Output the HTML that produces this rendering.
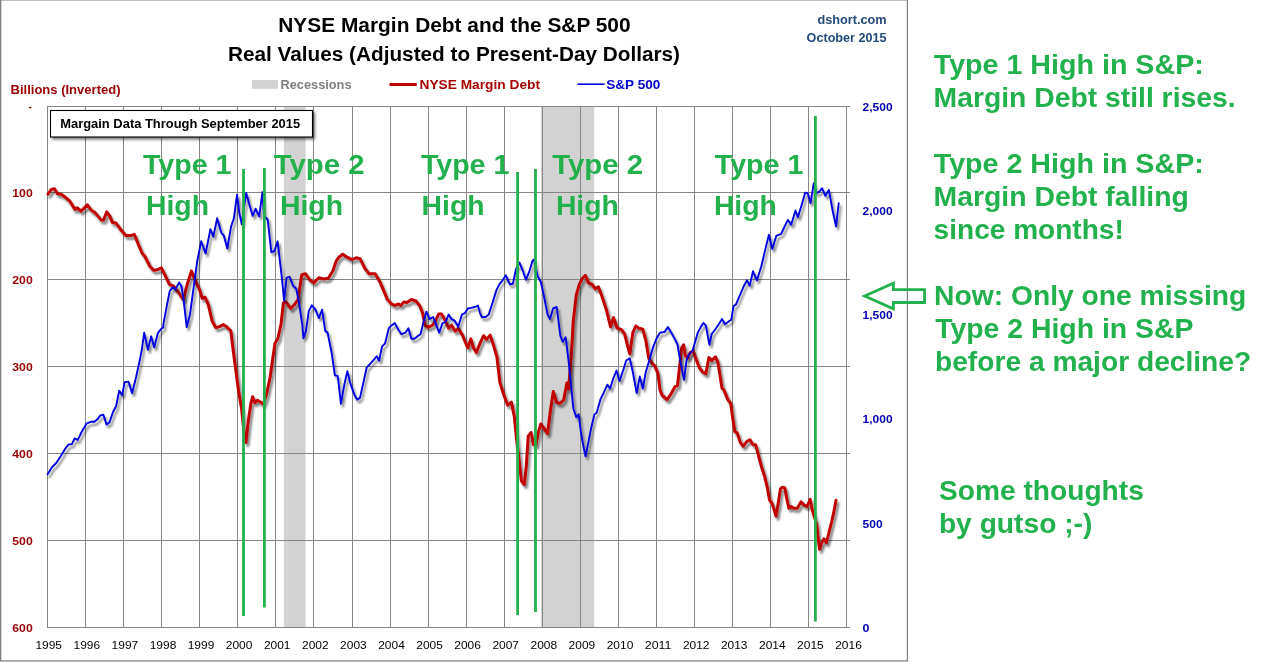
<!DOCTYPE html>
<html lang="en"><head><meta charset="utf-8"><title>NYSE Margin Debt and the S&amp;P 500</title>
<style>html,body{margin:0;padding:0;background:#fff;}body{width:1272px;height:662px;overflow:hidden;}svg{display:block;}text{font-family:"Liberation Sans",Arial,sans-serif;}</style></head><body>
<svg width="1272" height="662" viewBox="0 0 1272 662">
<defs>
<filter id="sh" x="-5%" y="-5%" width="110%" height="110%"><feGaussianBlur in="SourceAlpha" stdDeviation="1.3"/><feOffset dx="2" dy="2.5" result="o"/><feComponentTransfer><feFuncA type="linear" slope="0.5"/></feComponentTransfer><feMerge><feMergeNode/><feMergeNode in="SourceGraphic"/></feMerge></filter>
<filter id="sh2" x="-5%" y="-20%" width="110%" height="150%"><feGaussianBlur in="SourceAlpha" stdDeviation="1.5"/><feOffset dx="2" dy="2"/><feComponentTransfer><feFuncA type="linear" slope="0.55"/></feComponentTransfer><feMerge><feMergeNode/><feMergeNode in="SourceGraphic"/></feMerge></filter>
</defs>
<rect x="0" y="0" width="1272" height="662" fill="#fff"/>
<path d="M0 0H908V661.6H0Z" fill="#808080"/><path d="M1.3 0.6H906.8V660.3H1.3Z" fill="#fff"/>
<rect x="283.9" y="106.5" width="21.7" height="521.0" fill="#d2d2d2"/>
<rect x="541" y="106.5" width="53.2" height="521.0" fill="#d2d2d2"/>
<path d="M47.5 106V628M85.5 106V628M123.5 106V628M161.5 106V628M199.5 106V628M237.5 106V628M275.5 106V628M313.5 106V628M352.5 106V628M390.5 106V628M428.5 106V628M466.5 106V628M504.5 106V628M542.5 106V628M580.5 106V628M618.5 106V628M656.5 106V628M694.5 106V628M732.5 106V628M770.5 106V628M808.5 106V628M846.5 106V628M47 106.5H850M47 192.5H850M47 279.5H850M47 366.5H850M47 453.5H850M47 540.5H850M47 627.5H850" fill="none" stroke="#868686" stroke-width="1"/>
<path d="M48.0 194.2 L51.2 189.5 L54.5 188.7 L57.5 193.7 L61.2 194.2 L64.9 196.9 L69.9 201.2 L74.9 209.4 L77.4 207.9 L81.1 211.1 L87.4 204.9 L91.1 209.9 L94.9 212.4 L101.1 219.9 L103.6 219.9 L106.8 211.9 L109.8 216.1 L112.3 222.4 L116.1 223.1 L121.0 229.9 L126.0 235.6 L131.0 235.6 L134.3 234.3 L138.5 244.8 L142.2 253.5 L144.7 256.0 L149.7 266.0 L153.5 270.2 L157.2 269.8 L161.4 267.8 L164.7 274.7 L169.7 284.7 L173.4 286.0 L178.4 292.2 L183.4 299.7 L187.1 284.7 L191.4 271.0 L195.9 282.2 L199.6 289.7 L202.1 298.4 L205.1 297.2 L208.3 304.7 L212.1 320.9 L215.8 327.6 L219.6 326.6 L223.3 324.6 L227.0 327.1 L230.8 330.8 L232.6 345.9 L235.8 370.1 L238.7 391.8 L241.6 408.8 L244.0 431.7 L245.9 442.6 L248.3 420.8 L250.8 403.9 L252.7 396.7 L255.1 402.7 L257.5 400.3 L260.4 402.0 L263.3 403.9 L266.5 394.3 L270.1 377.3 L272.5 360.4 L274.9 343.5 L277.8 338.7 L281.0 324.2 L283.4 302.9 L285.8 301.9 L288.2 304.8 L290.6 308.5 L294.3 304.8 L297.9 300.0 L301.8 274.7 L305.7 273.8 L309.6 279.8 L313.8 282.9 L318.7 277.7 L323.8 278.9 L328.3 278.3 L332.9 270.8 L335.9 261.7 L338.9 257.2 L342.8 254.2 L347.1 257.2 L351.9 259.6 L356.1 257.8 L360.1 258.7 L364.6 267.8 L369.1 273.8 L375.2 273.8 L379.7 281.4 L384.2 291.9 L387.3 299.5 L391.8 304.0 L394.8 305.5 L398.4 304.0 L400.8 305.5 L403.9 301.9 L406.9 302.5 L411.4 299.5 L416.0 301.0 L419.6 305.5 L422.6 313.1 L425.0 325.2 L428.0 327.3 L432.6 325.2 L435.6 320.6 L438.6 314.0 L441.6 314.0 L445.3 320.6 L448.6 328.2 L451.6 325.2 L455.2 331.2 L458.2 328.2 L462.8 335.7 L465.8 343.3 L467.9 347.8 L470.9 338.8 L473.4 347.8 L476.4 352.4 L480.0 343.3 L483.6 335.7 L486.6 339.4 L490.2 335.1 L493.8 346.3 L496.9 356.9 L499.9 382.6 L503.8 394.7 L507.7 405.2 L511.4 402.2 L514.4 417.3 L516.6 439.8 L519.0 459.1 L521.4 480.8 L524.3 484.5 L526.3 466.3 L528.2 436.1 L531.1 432.5 L533.5 444.6 L535.9 445.1 L538.3 432.5 L540.8 424.0 L544.4 428.9 L547.5 433.7 L550.4 410.8 L553.3 391.4 L556.5 402.3 L560.1 403.5 L563.7 399.9 L566.9 383.0 L568.5 389.0 L571.2 356.9 L573.3 320.6 L576.3 295.0 L579.3 284.4 L582.4 278.3 L585.4 275.3 L588.4 282.9 L592.3 284.4 L595.3 288.9 L598.4 286.8 L602.0 296.5 L606.5 310.1 L610.5 326.7 L613.5 317.6 L617.1 328.2 L621.6 329.7 L624.7 334.2 L627.7 346.3 L629.8 353.9 L632.8 332.7 L635.8 326.1 L638.9 328.2 L642.8 329.1 L645.8 340.3 L648.8 358.4 L651.8 362.9 L654.9 366.0 L657.9 373.5 L660.0 390.1 L662.3 395.5 L667.1 399.6 L670.8 394.3 L675.1 386.5 L677.5 385.8 L679.2 370.1 L681.6 348.3 L683.6 344.7 L685.3 355.6 L687.7 358.0 L690.1 352.7 L693.2 351.2 L696.1 359.2 L699.3 367.7 L702.7 372.0 L705.8 373.7 L708.9 357.5 L711.8 360.4 L715.5 356.8 L717.9 362.4 L720.3 377.3 L722.0 388.2 L723.9 389.9 L727.6 399.1 L730.7 403.4 L732.4 416.0 L734.8 431.7 L737.2 432.9 L740.4 442.6 L743.3 446.2 L746.9 441.4 L750.0 439.7 L752.9 444.5 L755.8 445.0 L758.2 454.7 L761.6 467.1 L764.7 476.8 L767.1 486.5 L769.5 499.8 L772.0 503.4 L774.4 510.6 L776.1 516.2 L778.0 504.6 L780.4 488.9 L782.4 487.2 L784.8 487.7 L786.5 497.3 L788.9 508.2 L791.3 506.5 L793.7 508.2 L797.3 508.2 L801.0 501.7 L804.1 505.1 L807.0 506.5 L810.2 499.3 L811.8 508.2 L814.3 516.7 L816.7 524.4 L817.9 536.0 L819.6 549.3 L821.5 543.3 L823.9 538.9 L826.3 542.8 L828.8 533.1 L831.7 521.5 L834.1 510.6 L836.0 500.2" fill="none" stroke="#c00000" stroke-width="3" stroke-linejoin="round" stroke-linecap="round" filter="url(#sh)"/>
<path d="M47.6 474.3 L52.1 467.1 L56.6 462.5 L61.1 455.6 L65.7 448.0 L68.7 444.4 L71.7 444.4 L74.7 438.4 L77.8 439.9 L81.4 432.3 L86.8 423.3 L90.8 421.8 L94.4 421.8 L97.4 419.3 L100.4 415.4 L103.4 414.8 L106.5 424.5 L109.5 422.4 L113.1 411.8 L116.1 406.3 L119.2 390.6 L122.2 395.2 L124.6 382.2 L128.5 381.6 L132.1 393.1 L136.1 377.0 L139.7 360.4 L141.8 349.8 L144.2 332.6 L147.9 349.8 L151.2 336.3 L154.2 347.4 L157.8 333.2 L160.8 329.3 L163.3 327.2 L163.3 324.7 L166.4 307.8 L169.8 290.8 L173.0 287.2 L175.4 289.6 L179.0 282.4 L181.4 286.0 L183.8 301.7 L186.7 327.1 L189.9 315.0 L193.5 288.4 L197.1 261.8 L201.2 241.3 L205.6 253.4 L210.4 229.2 L213.3 236.5 L217.2 218.3 L221.3 232.8 L223.7 235.3 L227.3 248.5 L231.0 226.8 L233.9 218.3 L237.0 194.7 L239.4 213.5 L241.8 224.4 L243.8 208.7 L246.2 193.0 L249.1 203.8 L252.7 215.9 L255.6 208.7 L259.2 216.4 L262.4 192.2 L264.1 215.9 L267.7 219.5 L271.3 252.2 L274.5 251.0 L277.6 241.3 L281.7 276.3 L284.1 300.5 L286.6 277.6 L289.7 276.8 L293.1 286.0 L296.2 288.4 L298.6 300.5 L302.3 324.7 L303.4 338.2 L305.9 331.4 L308.8 310.9 L311.9 305.3 L315.5 309.7 L318.9 318.1 L322.1 309.7 L325.2 330.9 L327.6 332.6 L331.7 353.2 L334.9 375.4 L337.8 376.1 L340.9 403.9 L344.3 384.6 L347.4 371.3 L350.3 383.4 L354.7 395.5 L357.1 399.6 L360.0 397.9 L363.7 381.1 L366.7 367.5 L369.7 364.4 L373.7 359.9 L376.7 356.3 L379.1 360.5 L382.1 346.3 L385.1 343.3 L388.8 328.2 L391.8 325.2 L394.8 323.1 L398.4 329.7 L401.5 334.2 L405.4 332.7 L408.4 328.2 L411.4 338.8 L414.4 338.8 L417.5 336.3 L420.5 334.2 L423.5 322.1 L426.5 311.6 L429.5 319.1 L433.2 317.0 L436.2 325.2 L439.2 332.7 L442.5 323.1 L445.6 322.1 L448.6 314.6 L451.6 319.1 L454.6 320.6 L458.2 326.7 L461.9 314.6 L464.9 313.1 L467.9 308.5 L470.9 307.9 L474.9 307.0 L477.9 305.5 L480.0 313.1 L481.8 317.0 L485.7 317.0 L488.7 314.6 L492.6 302.5 L496.3 290.4 L499.3 284.4 L502.9 279.8 L505.9 275.3 L509.8 284.4 L512.9 283.8 L515.9 269.3 L519.5 262.6 L522.8 270.8 L525.9 279.8 L529.5 270.8 L532.5 260.8 L534.0 259.6 L536.1 269.3 L537.9 276.8 L540.7 281.4 L544.0 296.5 L547.6 314.6 L550.0 319.1 L553.1 308.5 L556.7 307.0 L560.3 335.7 L562.7 341.8 L565.7 337.3 L568.8 362.9 L571.2 387.1 L573.3 408.2 L576.3 417.3 L578.7 414.3 L580.6 430.1 L583.1 444.6 L585.5 456.2 L587.9 444.6 L591.0 428.9 L594.4 414.4 L596.6 412.8 L600.5 399.2 L603.5 393.1 L607.4 384.7 L610.2 388.6 L613.2 378.6 L616.5 370.5 L619.5 381.1 L623.1 370.5 L626.2 360.5 L629.8 358.4 L632.8 372.0 L636.7 393.1 L639.8 376.5 L642.8 388.6 L645.8 372.0 L649.4 359.9 L653.4 346.3 L656.4 338.8 L660.0 332.7 L664.7 331.9 L667.9 327.1 L671.2 332.6 L674.4 338.2 L677.5 344.7 L680.4 361.6 L684.0 379.8 L686.5 360.4 L688.9 354.4 L692.5 350.8 L695.4 341.1 L697.8 332.6 L701.0 326.6 L703.4 323.0 L705.8 325.4 L709.4 344.7 L711.8 333.8 L715.5 329.0 L719.1 323.7 L722.0 318.9 L725.1 324.2 L728.3 321.8 L731.2 319.8 L733.6 306.0 L736.0 304.4 L739.7 295.6 L743.7 286.3 L747.0 280.3 L749.7 285.6 L753.0 271.3 L757.0 280.3 L761.3 266.3 L765.6 248.1 L768.9 234.8 L772.3 249.1 L776.3 235.8 L781.2 233.8 L784.6 226.5 L787.9 219.8 L791.2 224.8 L795.5 210.5 L797.9 217.2 L801.2 206.5 L805.2 192.6 L807.8 193.2 L810.5 203.2 L813.8 183.3 L816.1 193.2 L819.5 191.6 L822.1 188.2 L825.4 195.9 L828.8 189.9 L832.8 211.5 L836.1 226.5 L838.7 203.2" fill="none" stroke="#0000e0" stroke-width="1.9" stroke-linejoin="round" stroke-linecap="round" filter="url(#sh)"/>
<line x1="243.5" y1="169" x2="243.5" y2="616" stroke="#22b14c" stroke-width="2.8"/>
<line x1="264.4" y1="168" x2="264.4" y2="607.5" stroke="#22b14c" stroke-width="2.8"/>
<line x1="517.6" y1="172" x2="517.6" y2="615" stroke="#22b14c" stroke-width="2.8"/>
<line x1="535.5" y1="169" x2="535.5" y2="612" stroke="#22b14c" stroke-width="2.8"/>
<line x1="815.4" y1="116" x2="815.4" y2="621.6" stroke="#22b14c" stroke-width="2.8"/>
<text x="278.3" y="32.2" font-size="19.6" font-weight="bold" fill="#000" text-anchor="start" textLength="352.3" lengthAdjust="spacingAndGlyphs">NYSE Margin Debt and the S&amp;P 500</text>
<text x="228" y="61" font-size="19.6" font-weight="bold" fill="#000" text-anchor="start" textLength="452" lengthAdjust="spacingAndGlyphs">Real Values (Adjusted to Present-Day Dollars)</text>
<rect x="252" y="80" width="25.9" height="8.8" fill="#d2d2d2"/>
<text x="280.5" y="88.7" font-size="12" font-weight="bold" fill="#7f7f7f" text-anchor="start" textLength="71" lengthAdjust="spacingAndGlyphs">Recessions</text>
<line x1="389.5" y1="84.5" x2="416.8" y2="84.5" stroke="#c00000" stroke-width="3"/>
<text x="419.5" y="88.7" font-size="12" font-weight="bold" fill="#a80000" text-anchor="start" textLength="120.5" lengthAdjust="spacingAndGlyphs">NYSE Margin Debt</text>
<line x1="577.5" y1="84.2" x2="604.5" y2="84.2" stroke="#0000e0" stroke-width="1.6"/>
<text x="606.25" y="88.7" font-size="12" font-weight="bold" fill="#0000c8" text-anchor="start" textLength="54" lengthAdjust="spacingAndGlyphs">S&amp;P 500</text>
<text x="886.6" y="23.75" font-size="12" font-weight="bold" fill="#244a7c" text-anchor="end" textLength="69.2" lengthAdjust="spacingAndGlyphs">dshort.com</text>
<text x="886.6" y="41.5" font-size="12" font-weight="bold" fill="#244a7c" text-anchor="end" textLength="80" lengthAdjust="spacingAndGlyphs">October 2015</text>
<text x="10.5" y="93.75" font-size="12" font-weight="bold" fill="#990000" text-anchor="start" textLength="110" lengthAdjust="spacingAndGlyphs">Billions (Inverted)</text>
<text x="28.6" y="109.8" font-size="10" font-weight="bold" fill="#990000" text-anchor="start">-</text>
<text x="32.7" y="196.7" font-size="11" font-weight="bold" fill="#990000" text-anchor="end" textLength="20.4" lengthAdjust="spacingAndGlyphs">100</text>
<text x="32.7" y="283.7" font-size="11" font-weight="bold" fill="#990000" text-anchor="end" textLength="20.4" lengthAdjust="spacingAndGlyphs">200</text>
<text x="32.7" y="370.7" font-size="11" font-weight="bold" fill="#990000" text-anchor="end" textLength="20.4" lengthAdjust="spacingAndGlyphs">300</text>
<text x="32.7" y="457.7" font-size="11" font-weight="bold" fill="#990000" text-anchor="end" textLength="20.4" lengthAdjust="spacingAndGlyphs">400</text>
<text x="32.7" y="544.7" font-size="11" font-weight="bold" fill="#990000" text-anchor="end" textLength="20.4" lengthAdjust="spacingAndGlyphs">500</text>
<text x="32.7" y="631.7" font-size="11" font-weight="bold" fill="#990000" text-anchor="end" textLength="20.4" lengthAdjust="spacingAndGlyphs">600</text>
<text x="862.6" y="631.7" font-size="11" font-weight="bold" fill="#0000b4" text-anchor="start" textLength="6.9" lengthAdjust="spacingAndGlyphs">0</text>
<text x="862.6" y="527.5" font-size="11" font-weight="bold" fill="#0000b4" text-anchor="start" textLength="20" lengthAdjust="spacingAndGlyphs">500</text>
<text x="862.6" y="423.3" font-size="11" font-weight="bold" fill="#0000b4" text-anchor="start" textLength="30" lengthAdjust="spacingAndGlyphs">1,000</text>
<text x="862.6" y="319.1" font-size="11" font-weight="bold" fill="#0000b4" text-anchor="start" textLength="30" lengthAdjust="spacingAndGlyphs">1,500</text>
<text x="862.6" y="214.9" font-size="11" font-weight="bold" fill="#0000b4" text-anchor="start" textLength="30" lengthAdjust="spacingAndGlyphs">2,000</text>
<text x="862.6" y="110.7" font-size="11" font-weight="bold" fill="#0000b4" text-anchor="start" textLength="30" lengthAdjust="spacingAndGlyphs">2,500</text>
<text x="48.7" y="648.8" font-size="11" font-weight="normal" fill="#000" text-anchor="middle" textLength="26.6" lengthAdjust="spacingAndGlyphs">1995</text>
<text x="86.8" y="648.8" font-size="11" font-weight="normal" fill="#000" text-anchor="middle" textLength="26.6" lengthAdjust="spacingAndGlyphs">1996</text>
<text x="124.9" y="648.8" font-size="11" font-weight="normal" fill="#000" text-anchor="middle" textLength="26.6" lengthAdjust="spacingAndGlyphs">1997</text>
<text x="163.0" y="648.8" font-size="11" font-weight="normal" fill="#000" text-anchor="middle" textLength="26.6" lengthAdjust="spacingAndGlyphs">1998</text>
<text x="201.0" y="648.8" font-size="11" font-weight="normal" fill="#000" text-anchor="middle" textLength="26.6" lengthAdjust="spacingAndGlyphs">1999</text>
<text x="239.1" y="648.8" font-size="11" font-weight="normal" fill="#000" text-anchor="middle" textLength="26.6" lengthAdjust="spacingAndGlyphs">2000</text>
<text x="277.2" y="648.8" font-size="11" font-weight="normal" fill="#000" text-anchor="middle" textLength="26.6" lengthAdjust="spacingAndGlyphs">2001</text>
<text x="315.3" y="648.8" font-size="11" font-weight="normal" fill="#000" text-anchor="middle" textLength="26.6" lengthAdjust="spacingAndGlyphs">2002</text>
<text x="353.4" y="648.8" font-size="11" font-weight="normal" fill="#000" text-anchor="middle" textLength="26.6" lengthAdjust="spacingAndGlyphs">2003</text>
<text x="391.5" y="648.8" font-size="11" font-weight="normal" fill="#000" text-anchor="middle" textLength="26.6" lengthAdjust="spacingAndGlyphs">2004</text>
<text x="429.6" y="648.8" font-size="11" font-weight="normal" fill="#000" text-anchor="middle" textLength="26.6" lengthAdjust="spacingAndGlyphs">2005</text>
<text x="467.6" y="648.8" font-size="11" font-weight="normal" fill="#000" text-anchor="middle" textLength="26.6" lengthAdjust="spacingAndGlyphs">2006</text>
<text x="505.7" y="648.8" font-size="11" font-weight="normal" fill="#000" text-anchor="middle" textLength="26.6" lengthAdjust="spacingAndGlyphs">2007</text>
<text x="543.8" y="648.8" font-size="11" font-weight="normal" fill="#000" text-anchor="middle" textLength="26.6" lengthAdjust="spacingAndGlyphs">2008</text>
<text x="581.9" y="648.8" font-size="11" font-weight="normal" fill="#000" text-anchor="middle" textLength="26.6" lengthAdjust="spacingAndGlyphs">2009</text>
<text x="620.0" y="648.8" font-size="11" font-weight="normal" fill="#000" text-anchor="middle" textLength="26.6" lengthAdjust="spacingAndGlyphs">2010</text>
<text x="658.1" y="648.8" font-size="11" font-weight="normal" fill="#000" text-anchor="middle" textLength="26.6" lengthAdjust="spacingAndGlyphs">2011</text>
<text x="696.2" y="648.8" font-size="11" font-weight="normal" fill="#000" text-anchor="middle" textLength="26.6" lengthAdjust="spacingAndGlyphs">2012</text>
<text x="734.2" y="648.8" font-size="11" font-weight="normal" fill="#000" text-anchor="middle" textLength="26.6" lengthAdjust="spacingAndGlyphs">2013</text>
<text x="772.3" y="648.8" font-size="11" font-weight="normal" fill="#000" text-anchor="middle" textLength="26.6" lengthAdjust="spacingAndGlyphs">2014</text>
<text x="810.4" y="648.8" font-size="11" font-weight="normal" fill="#000" text-anchor="middle" textLength="26.6" lengthAdjust="spacingAndGlyphs">2015</text>
<text x="848.5" y="648.8" font-size="11" font-weight="normal" fill="#000" text-anchor="middle" textLength="26.6" lengthAdjust="spacingAndGlyphs">2016</text>
<rect x="50.5" y="110.5" width="262" height="26.5" fill="#fff" stroke="#000" stroke-width="1.1" filter="url(#sh2)"/>
<text x="60.2" y="127.8" font-size="12.4" font-weight="bold" fill="#000" text-anchor="start" textLength="240" lengthAdjust="spacingAndGlyphs">Margain Data Through September 2015</text>
<text x="143.0" y="173.6" font-size="27" font-weight="bold" fill="#22b14c" text-anchor="start" textLength="88.5" lengthAdjust="spacingAndGlyphs">Type 1</text>
<text x="146.0" y="215.3" font-size="27" font-weight="bold" fill="#22b14c" text-anchor="start" textLength="63" lengthAdjust="spacingAndGlyphs">High</text>
<text x="273.7" y="173.6" font-size="27" font-weight="bold" fill="#22b14c" text-anchor="start" textLength="90.8" lengthAdjust="spacingAndGlyphs">Type 2</text>
<text x="280.0" y="215.3" font-size="27" font-weight="bold" fill="#22b14c" text-anchor="start" textLength="63" lengthAdjust="spacingAndGlyphs">High</text>
<text x="420.9" y="173.6" font-size="27" font-weight="bold" fill="#22b14c" text-anchor="start" textLength="88.5" lengthAdjust="spacingAndGlyphs">Type 1</text>
<text x="421.6" y="215.3" font-size="27" font-weight="bold" fill="#22b14c" text-anchor="start" textLength="63" lengthAdjust="spacingAndGlyphs">High</text>
<text x="552.3" y="173.6" font-size="27" font-weight="bold" fill="#22b14c" text-anchor="start" textLength="90.8" lengthAdjust="spacingAndGlyphs">Type 2</text>
<text x="555.9" y="215.3" font-size="27" font-weight="bold" fill="#22b14c" text-anchor="start" textLength="63" lengthAdjust="spacingAndGlyphs">High</text>
<text x="714.8" y="173.6" font-size="27" font-weight="bold" fill="#22b14c" text-anchor="start" textLength="88.5" lengthAdjust="spacingAndGlyphs">Type 1</text>
<text x="713.9" y="215.3" font-size="27" font-weight="bold" fill="#22b14c" text-anchor="start" textLength="63" lengthAdjust="spacingAndGlyphs">High</text>
<path d="M864.6 296L893.4 283.2V289.6H924.5V302.5H893.4V308.8Z" fill="none" stroke="#22b14c" stroke-width="2.8" stroke-linejoin="miter"/>
<text x="933.8" y="73.9" font-size="28" font-weight="bold" fill="#22b14c" text-anchor="start" textLength="270" lengthAdjust="spacingAndGlyphs">Type 1 High in S&amp;P:</text>
<text x="933.6" y="106.9" font-size="28" font-weight="bold" fill="#22b14c" text-anchor="start" textLength="302" lengthAdjust="spacingAndGlyphs">Margin Debt still rises.</text>
<text x="933.8" y="172.7" font-size="28" font-weight="bold" fill="#22b14c" text-anchor="start" textLength="270" lengthAdjust="spacingAndGlyphs">Type 2 High in S&amp;P:</text>
<text x="933.6" y="205.8" font-size="28" font-weight="bold" fill="#22b14c" text-anchor="start" textLength="255.2" lengthAdjust="spacingAndGlyphs">Margin Debt falling</text>
<text x="933.6" y="238.8" font-size="28" font-weight="bold" fill="#22b14c" text-anchor="start" textLength="190.2" lengthAdjust="spacingAndGlyphs">since months!</text>
<text x="934.1" y="304.8" font-size="28" font-weight="bold" fill="#22b14c" text-anchor="start" textLength="312.2" lengthAdjust="spacingAndGlyphs">Now: Only one missing</text>
<text x="935.2" y="337.6" font-size="28" font-weight="bold" fill="#22b14c" text-anchor="start" textLength="258.2" lengthAdjust="spacingAndGlyphs">Type 2 High in S&amp;P</text>
<text x="935" y="370.5" font-size="28" font-weight="bold" fill="#22b14c" text-anchor="start" textLength="316.2" lengthAdjust="spacingAndGlyphs">before a major decline?</text>
<text x="939" y="499.9" font-size="28" font-weight="bold" fill="#22b14c" text-anchor="start" textLength="204.8" lengthAdjust="spacingAndGlyphs">Some thoughts</text>
<text x="938.9" y="533.2" font-size="28" font-weight="bold" fill="#22b14c" text-anchor="start" textLength="153.5" lengthAdjust="spacingAndGlyphs">by gutso ;-)</text>
</svg></body></html>
